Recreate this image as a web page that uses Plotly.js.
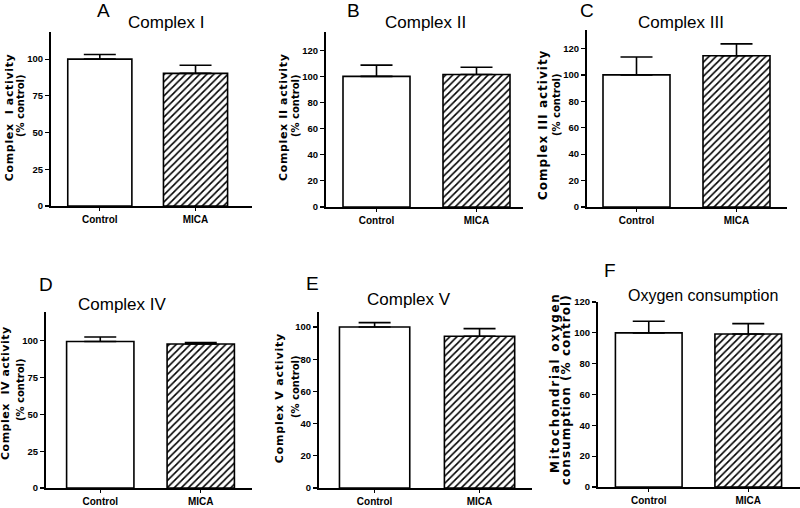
<!DOCTYPE html>
<html>
<head>
<meta charset="utf-8">
<script src="https://cdn.plot.ly/plotly-3.0.1.min.js"></script>
<style>html,body{margin:0;padding:0;background:#fff}#chart{width:800px;height:508px}</style>
</head>
<body>
<div id="chart"></div>
<script>
// ---- data ----
const categories = ['Control', 'MICA'];
const panelLetters = ['A', 'B', 'C', 'D', 'E', 'F'];
const panelTitles = ['Complex I', 'Complex II', 'Complex III', 'Complex IV', 'Complex V', 'Oxygen consumption'];
const yTitleLine1 = ['Complex  I activity', 'Complex II activity', 'Complex III activity',
                     'Complex  IV activity', 'Complex V activity', 'Mitochondrial oxygen'];
const yTitleLine2 = ['(% control)', '(% control)', '(% control)',
                     '(% control)', '(% control)', 'consumption (% control)'];
const complexI   = [100, 90.3];
const complexIErr   = [3.2, 5.6];
const complexII  = [100, 101.5];
const complexIIErr  = [8.6, 5.5];
const complexIII = [100, 114.5];
const complexIIIErr = [13.6, 9];
const complexIV  = [99.5, 97.8];
const complexIVErr  = [3, 1];
const complexV   = [100, 94.2];
const complexVErr   = [2.7, 4.8];
const oxygen     = [100, 99.2];
const oxygenErr     = [7.5, 6.8];
const yTickVals = [
  [0, 25, 50, 75, 100],
  [0, 20, 40, 60, 80, 100, 120],
  [0, 20, 40, 60, 80, 100, 120],
  [0, 25, 50, 75, 100],
  [0, 20, 40, 60, 80, 100],
  [0, 20, 40, 60, 80, 100, 120]
];
const values = [complexI, complexII, complexIII, complexIV, complexV, oxygen];
const errors = [complexIErr, complexIIErr, complexIIIErr, complexIVErr, complexVErr, oxygenErr];

// ---- layout geometry (pixels) ----
const W = 800, H = 508;
const panels = [
  {x0: 51,  x1: 252, yb: 206, yt: 32,  xr: [-0.51, 1.59], yr: [0, 118.5], L: [103, 11], T: [166.5, 22.7], ts: 17,
   y1: {x: 9, y: 118, s: 11, ls: 0.65}, y2: {x: 21, y: 106, s: 10, ls: 0}},
  {x0: 326, x1: 523, yb: 207, yt: 32,  xr: [-0.505, 1.465], yr: [0, 134], L: [353.5, 11], T: [425, 22.5], ts: 17,
   y1: {x: 283, y: 118, s: 11, ls: 0.63}, y2: {x: 296, y: 106, s: 10, ls: 0}},
  {x0: 587, x1: 787, yb: 207, yt: 30,  xr: [-0.495, 1.505], yr: [0, 134], L: [587, 11], T: [681, 22.5], ts: 17,
   y1: {x: 543, y: 125, s: 12, ls: 1.0}, y2: {x: 557, y: 105, s: 10, ls: 0}},
  {x0: 46,  x1: 252, yb: 488, yt: 312, xr: [-0.54, 1.51], yr: [0, 119.5], L: [46, 284.5], T: [122.5, 304.5], ts: 17,
   y1: {x: 5, y: 393, s: 11, ls: 0.5}, y2: {x: 20, y: 390, s: 10, ls: 0}},
  {x0: 319, x1: 532, yb: 488, yt: 312, xr: [-0.53, 1.5], yr: [0, 109.3], L: [312, 283], T: [408.5, 299.5], ts: 17,
   y1: {x: 279, y: 398, s: 11, ls: 0.8}, y2: {x: 295, y: 387, s: 10, ls: 0}},
  {x0: 598, x1: 800, yb: 487, yt: 302, xr: [-0.51, 1.52], yr: [0, 120], L: [609.5, 270.5], T: [703, 295], ts: 16,
   y1: {x: 555, y: 383, s: 12, ls: 1.7}, y2: {x: 566, y: 390, s: 12, ls: 1.06}}
];

const FONT = 'Liberation Sans, Arial, sans-serif';
const BOLDT = 'DejaVu Sans, Verdana, sans-serif';
const TICKF = 'Liberation Sans Narrow, Liberation Sans, Arial, sans-serif';

const data = [];
const layout = {
  width: W, height: H,
  margin: {l: 0, r: 0, t: 0, b: 0},
  paper_bgcolor: '#fff', plot_bgcolor: 'rgba(0,0,0,0)',
  showlegend: false,
  annotations: []
};
const spacing = []; // [annotation index, letter spacing px]

panels.forEach((p, i) => {
  const n = i === 0 ? '' : String(i + 1);
  data.push({
    type: 'bar',
    x: categories,
    y: values[i],
    xaxis: 'x' + n, yaxis: 'y' + n,
    width: 0.67,
    marker: {
      color: 'white',
      line: {color: '#000', width: 1.6},
      pattern: {shape: ['', '/'], size: 5, solidity: 0.32, fgcolor: '#000', bgcolor: 'white', fillmode: 'replace'}
    },
    error_y: {type: 'data', symmetric: false, array: errors[i], arrayminus: [0, 0],
              color: '#000', thickness: 1.6, width: 16},
    cliponaxis: false,
    hoverinfo: 'skip'
  });
  layout['xaxis' + n] = {
    domain: [p.x0 / W, p.x1 / W],
    anchor: 'y' + n,
    range: p.xr,
    type: 'category',
    showline: true, linecolor: '#000', linewidth: 2,
    ticks: 'outside', ticklen: 3, tickwidth: 1.2, tickcolor: '#000',
    tickfont: {family: TICKF, size: 10, color: '#000', weight: 'bold'},
    showgrid: false, zeroline: false, fixedrange: true
  };
  layout['yaxis' + n] = {
    domain: [1 - p.yb / H, 1 - p.yt / H],
    anchor: 'x' + n,
    range: p.yr,
    tickvals: yTickVals[i],
    showline: true, linecolor: '#000', linewidth: 2,
    ticks: 'outside', ticklen: 4, tickwidth: 1.2, tickcolor: '#000',
    tickfont: {family: TICKF, size: 9.5, color: '#000', weight: 'bold'},
    showgrid: false, zeroline: false, fixedrange: true
  };
  layout.annotations.push({
    text: panelLetters[i], xref: 'paper', yref: 'paper',
    x: p.L[0] / W, y: 1 - p.L[1] / H, xanchor: 'center', yanchor: 'middle',
    showarrow: false, font: {family: FONT, size: 19, color: '#000'}
  });
  layout.annotations.push({
    text: panelTitles[i], xref: 'paper', yref: 'paper',
    x: p.T[0] / W, y: 1 - p.T[1] / H, xanchor: 'center', yanchor: 'middle',
    showarrow: false, font: {family: FONT, size: p.ts, color: '#000'}
  });
  [[yTitleLine1[i], p.y1], [yTitleLine2[i], p.y2]].forEach(([txt, c]) => {
    if (c.ls) spacing.push([layout.annotations.length, c.ls]);
    layout.annotations.push({
      text: txt, xref: 'paper', yref: 'paper', textangle: -90,
      x: c.x / W, y: 1 - c.y / H, xanchor: 'center', yanchor: 'middle',
      showarrow: false, font: {family: BOLDT, size: c.s, color: '#000', weight: 'bold'}
    });
  });
});

Plotly.newPlot('chart', data, layout, {staticPlot: true, displayModeBar: false}).then(gd => {
  spacing.forEach(([k, ls]) => {
    gd.querySelectorAll('.annotation[data-index="' + k + '"] text.annotation-text')
      .forEach(t => { t.style.letterSpacing = ls + 'px'; });
  });
});
</script>
</body>
</html>
